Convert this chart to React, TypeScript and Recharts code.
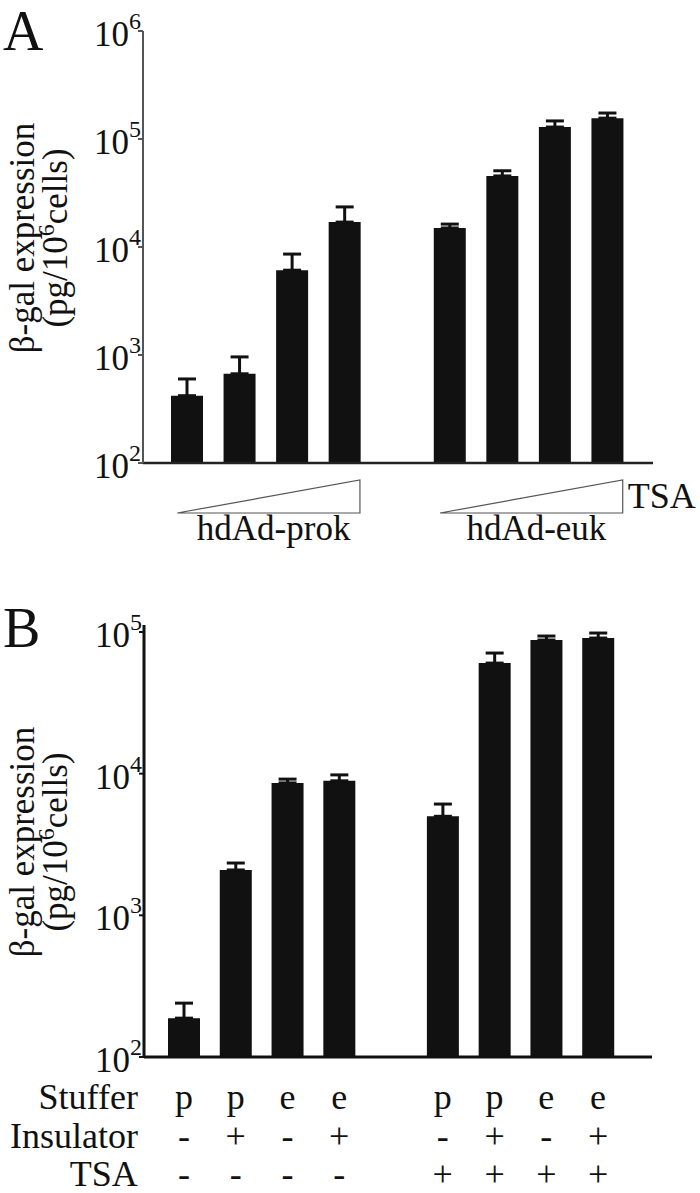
import { BarChart, Bar, XAxis, YAxis, ErrorBar } from 'recharts'

const SERIF = '"Liberation Serif", "Times New Roman", serif'
const INK = '#111'

// slot 5 is the empty gap between the two groups
const slots = ['a1', 'a2', 'a3', 'a4', 'gap', 'a5', 'a6', 'a7', 'a8']

// panel A
const meanA = [420, 670, 6100, 17000, null, 15000, 45500, 129000, 156000]
const upperA = [600, 960, 8600, 23500, null, 16300, 50800, 147000, 174000]
const groupA = ['hdAd-prok', 'hdAd-euk']
const ticksA = [100, 1000, 10000, 100000, 1000000]

// panel B
const meanB = [188, 2090, 8600, 8900, null, 5000, 60300, 87700, 90600]
const upperB = [240, 2340, 9150, 9800, null, 6100, 71000, 93600, 98300]
const stuffer = ['p', 'p', 'e', 'e', '', 'p', 'p', 'e', 'e']
const insulator = ['-', '+', '-', '+', '', '-', '+', '-', '+']
const tsa = ['-', '-', '-', '-', '', '+', '+', '+', '+']
const rowNames = ['Stuffer', 'Insulator', 'TSA']
const ticksB = [100, 1000, 10000, 100000]

const build = (mean: (number | null)[], upper: (number | null)[]) =>
  slots.map((key, i) => ({
    key,
    mean: mean[i],
    err: mean[i] == null ? [0, 0] : [0, (upper[i] as number) - (mean[i] as number)],
  }))

const dataA = build(meanA, upperA)
const dataB = build(meanB, upperB)

// plain svg text, always in the serif face
function T({ children, ...rest }: any) {
  return (
    <text fontFamily={SERIF} fill={INK} style={{ fontFamily: SERIF }} {...rest}>
      {children}
    </text>
  )
}

function PowTick(props: any) {
  const { x, y, payload } = props
  const exp = Math.round(Math.log10(payload.value))
  return (
    <T x={x + 5} y={y + 15} textAnchor="end" fontSize={35}>
      10<tspan dy={-17} fontSize={24}>{exp}</tspan>
    </T>
  )
}

function AxisTitle({ cy, letter, letterY }: any) {
  return (
    <g>
      <T x={3} y={letterY} fontSize={56}>{letter}</T>
      <T transform={`translate(34 ${cy}) rotate(-90)`} textAnchor="middle" fontSize={35}>
        β-gal expression
      </T>
      <T transform={`translate(67 ${cy}) rotate(-90)`} textAnchor="middle" fontSize={35}>
        (pg/10<tspan dy={-13} fontSize={24}>6</tspan>
        <tspan dy={13}>cells)</tspan>
      </T>
    </g>
  )
}

function RampTick(props: any) {
  const { x, y, payload } = props
  const i = payload.index
  if (i !== 3 && i !== 8) return <g />
  const half = payload.offset || 26
  const right = x + 15
  const left = x - 6 * half - 10
  return (
    <g>
      <polygon
        points={`${left},${y + 50} ${right},${y + 17} ${right},${y + 50}`}
        fill="none"
        stroke="#555"
        strokeWidth={1.2}
      />
      <T x={(left + right) / 2 + 5} y={y + 77} textAnchor="middle" fontSize={35}>
        {groupA[i === 3 ? 0 : 1]}
      </T>
      {i === 8 && (
        <T x={right + 5} y={y + 45} fontSize={36}>
          TSA
        </T>
      )}
    </g>
  )
}

function RowTick(props: any) {
  const { x, y, payload } = props
  const i = payload.index
  const rows = [stuffer[i], insulator[i], tsa[i]]
  const rowY = [52, 91, 129]
  return (
    <g>
      {i === 0 &&
        rowNames.map((n, r) => (
          <T key={n} x={x - 46} y={y + rowY[r]} textAnchor="end" fontSize={36}>
            {n}
          </T>
        ))}
      {rows.map((v, r) => (
        <T key={r} x={x} y={y + rowY[r]} textAnchor="middle" fontSize={36}>
          {v}
        </T>
      ))}
    </g>
  )
}

export default function App() {
  return (
    <div style={{ position: 'absolute', left: 0, top: 0, width: 700, height: 1193, background: '#fff', fontFamily: SERIF }}>
      <div style={{ position: 'absolute', left: 0, top: 0 }}>
        <BarChart width={700} height={560} data={dataA} style={{ fontFamily: SERIF }} margin={{ top: 31, right: 47, bottom: 0, left: 0 }}>
          <XAxis
            dataKey="key"
            height={97}
            padding={{ left: 18, right: 19 }}
            tickLine={false}
            tickSize={0}
            tickMargin={0}
            interval={0}
            tick={<RampTick />}
            axisLine={{ stroke: '#222', strokeWidth: 2.5 }}
          />
          <XAxis xAxisId="top" dataKey="key" orientation="top" height={0} tick={false} tickLine={false} axisLine={{ stroke: '#777', strokeWidth: 1.5 }} />
          <YAxis
            scale="log"
            type="number"
            domain={[100, 1000000]}
            allowDataOverflow
            ticks={ticksA}
            interval={0}
            width={143}
            tickSize={5}
            tick={<PowTick />}
            tickLine={{ stroke: '#555', strokeWidth: 2 }}
            axisLine={{ stroke: '#555', strokeWidth: 2 }}
            label={<AxisTitle cy={238} letter="A" letterY={50} />}
          />
          <YAxis yAxisId="right" orientation="right" width={0} tick={false} tickLine={false} axisLine={{ stroke: '#777', strokeWidth: 1.5 }} />
          <Bar dataKey="mean" fill={INK} barSize={32} isAnimationActive={false}>
            <ErrorBar dataKey="err" direction="y" width={9} strokeWidth={3} stroke={INK} />
          </Bar>
        </BarChart>
      </div>
      <div style={{ position: 'absolute', left: 0, top: 560 }}>
        <BarChart width={700} height={633} data={dataB} style={{ fontFamily: SERIF }} margin={{ top: 65, right: 48, bottom: 0, left: 0 }}>
          <XAxis
            dataKey="key"
            height={136}
            padding={{ left: 14, right: 28 }}
            tickLine={false}
            tickSize={0}
            tickMargin={0}
            interval={0}
            tick={<RowTick />}
            axisLine={{ stroke: INK, strokeWidth: 3 }}
          />
          <XAxis xAxisId="top" dataKey="key" orientation="top" height={0} tick={false} tickLine={false} axisLine={{ stroke: INK, strokeWidth: 3 }} />
          <YAxis
            scale="log"
            type="number"
            domain={[100, 112000]}
            allowDataOverflow
            ticks={ticksB}
            interval={0}
            width={144}
            tickSize={5}
            tick={<PowTick />}
            tickLine={{ stroke: INK, strokeWidth: 2 }}
            axisLine={{ stroke: INK, strokeWidth: 3 }}
            label={<AxisTitle cy={282} letter="B" letterY={87} />}
          />
          <YAxis yAxisId="right" orientation="right" width={0} tick={false} tickLine={false} axisLine={{ stroke: INK, strokeWidth: 3 }} />
          <Bar dataKey="mean" fill={INK} barSize={32} isAnimationActive={false}>
            <ErrorBar dataKey="err" direction="y" width={9} strokeWidth={3} stroke={INK} />
          </Bar>
        </BarChart>
      </div>
    </div>
  )
}
